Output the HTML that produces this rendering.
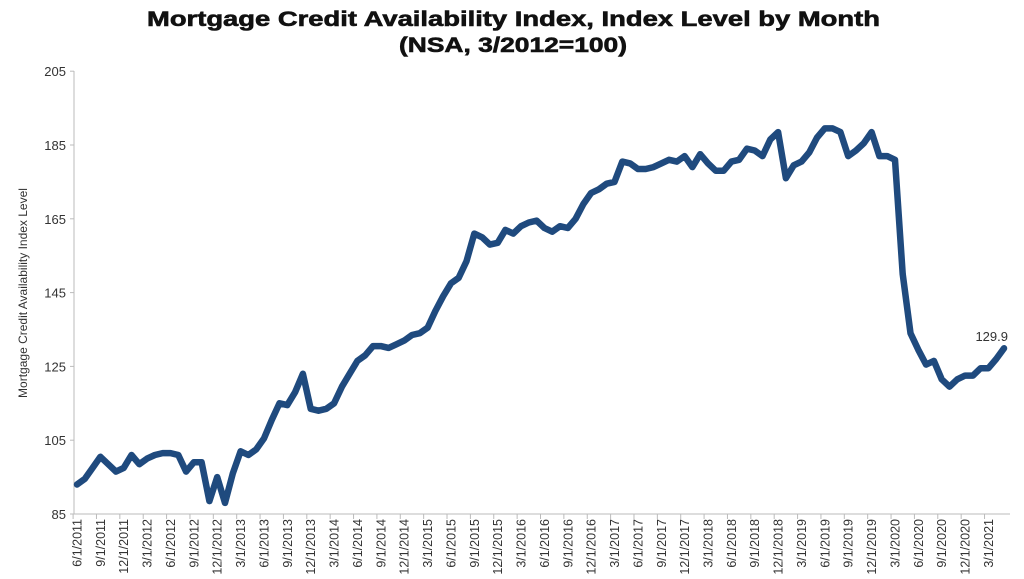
<!DOCTYPE html>
<html><head><meta charset="utf-8"><style>
html,body{margin:0;padding:0;background:#fff;}
svg{display:block;}
</style></head><body>
<svg id="c" width="1024" height="579" xmlns="http://www.w3.org/2000/svg" font-family="'Liberation Sans', Arial, sans-serif">
<text x="147" y="26" textLength="733" lengthAdjust="spacingAndGlyphs" font-size="21" font-weight="bold" fill="#111" stroke="#111" stroke-width="0.6">Mortgage Credit Availability Index, Index Level by Month</text>
<text x="399" y="52" textLength="228" lengthAdjust="spacingAndGlyphs" font-size="21" font-weight="bold" fill="#111" stroke="#111" stroke-width="0.6">(NSA, 3/2012=100)</text>
<g id="g"></g>
</svg>
<script>
var v=[93,94.5,97.5,100.5,98.5,96.5,97.5,101,98.5,100,101,101.5,101.5,101,96.5,99,99,88.5,95,88,96,102,101,102.5,105.5,110.5,115,114.5,118,123,113.5,113,113.5,115,119.5,123,126.5,128,130.5,130.5,130,131,132,133.5,134,135.5,140,144,147.5,149,153.5,161,160,158,158.5,162,161,163,164,164.5,162.5,161.5,163,162.5,165,169,172,173,174.5,175,180.5,180,178.5,178.5,179,180,181,180.5,182,179,182.5,180,178,178,180.5,181,184,183.5,182,186.5,188.5,176,179.5,180.5,183,187,189.5,189.5,188.5,182,183.5,185.5,188.5,182,182,181,150,134,129.5,125.5,126.5,121.5,119.5,121.5,122.5,122.5,124.5,124.5,127,129.9];
var X=function(i){return 77+7.79*i}, Y=function(val){return 514-(val-85)*3.69};
var s='';
s+='<line x1="74" y1="71" x2="74" y2="514" stroke="#bbb" stroke-width="1"/>';
s+='<line x1="74" y1="514" x2="1010" y2="514" stroke="#bbb" stroke-width="1"/>';
for(var t=85;t<=205;t+=20){var y=Y(t);s+='<line x1="70" y1="'+y+'" x2="74" y2="'+y+'" stroke="#bbb"/>';s+='<text x="66" y="'+(y+5)+'" text-anchor="end" font-size="13" fill="#333">'+t+'</text>';}
var ms=[6,9,12,3];
for(var k=0;k<40;k++){var i=k*3;var x=X(i);s+='<line x1="'+(x-3.9)+'" y1="514" x2="'+(x-3.9)+'" y2="519" stroke="#bbb"/>';
 if(i<=117){var m=ms[k%4];var yr=2011+Math.floor((k+1)/4);s+='<text transform="translate('+(x+4.5)+',519) rotate(-90)" text-anchor="end" font-size="12.5" fill="#333" font-family="\'Liberation Sans Narrow\',\'Liberation Sans\',sans-serif">'+m+'/1/'+yr+'</text>';}}
s+='<text transform="translate(27,293) rotate(-90)" text-anchor="middle" font-size="12" fill="#333" font-family="\'Liberation Sans Narrow\',\'Liberation Sans\',sans-serif">Mortgage Credit Availability Index Level</text>';
var p=v.map(function(a,i){return X(i).toFixed(1)+','+Y(a).toFixed(1)}).join(' ');
s+='<polyline points="'+p+'" fill="none" stroke="#1f4a7e" stroke-width="6.5" stroke-linejoin="round" stroke-linecap="round"/>';
s+='<text x="1008" y="341" text-anchor="end" font-size="13" fill="#333">129.9</text>';
document.getElementById('g').innerHTML=s;
</script>
</body></html>
